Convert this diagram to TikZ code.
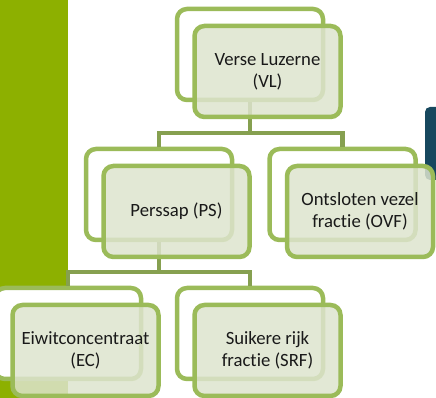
\documentclass[tikz,border=0pt]{standalone}
\usepackage{fontspec}
\setmainfont{Carlito}[Ligatures=NoCommon]
\usepackage{tikz}
\usetikzlibrary{positioning,calc}
\definecolor{balk}{RGB}{141,176,0}
\definecolor{nacht}{RGB}{23,72,94}
\definecolor{rand}{RGB}{155,187,89}
\definecolor{lijn}{RGB}{134,160,80}
\definecolor{vulling}{RGB}{221,228,206}
\tikzset{
  achter/.style={draw=rand,fill=white,line width=4.5pt,rounded corners=10pt,
    minimum width=146pt,minimum height=91pt,inner sep=0pt},
  voor/.style={achter,fill=vulling,fill opacity=0.85,text opacity=1,align=center,
    font=\fontsize{18.7}{22}\selectfont,text=black!90},
  verb/.style={draw=lijn,line width=4.5pt},
}

\begin{document}
\begin{tikzpicture}[x=1pt,y=1pt]
  \useasboundingbox (0,0) rectangle (436,398);
  \clip (0,0) rectangle (436,398);
  % achtergrond van de dia
  \fill[balk] (0,0) rectangle (68,398);
  \fill[nacht,rounded corners=5pt] (425,218) rectangle (445,291);
  % achterste kaders
  \node[achter] (vlA) at (250,343.5) {};
  \node[achter] (psA) at (159,203.5) {};
  \node[achter] (ovfA) at (342.5,203.5) {};
  \node[achter] (ecA) at (68,64.5) {};
  \node[achter] (srfA) at (250,64.5) {};
  % verbindingen
  \coordinate (tak1) at ($(vlA.south)+(0,-31)$);
  \draw[verb] (psA.north) |- (tak1) -| (ovfA.north);
  \draw[verb] (vlA.south) -- (tak1);
  \coordinate (tak2) at ($(psA.south)+(0,-30)$);
  \draw[verb] (ecA.north) |- (tak2) -| (srfA.north);
  \draw[verb] (psA.south) -- (tak2);
  % voorste vakken
  \node[voor] (vl) at ($(vlA)+(17.5,-17)$) {Verse Luzerne\\(VL)};
  \node[voor] (ps) at ($(psA)+(17.5,-17)$) {Perssap (PS)};
  \node[voor] (ovf) at ($(ovfA)+(17.5,-17)$) {Ontsloten vezel\\fractie (OVF)};
  \node[voor] (ec) at ($(ecA)+(17.5,-17)$) {Eiwitconcentraat\\(EC)};
  \node[voor] (srf) at ($(srfA)+(17.5,-17)$) {Suikere rijk\\fractie (SRF)};
\end{tikzpicture}
\end{document}
